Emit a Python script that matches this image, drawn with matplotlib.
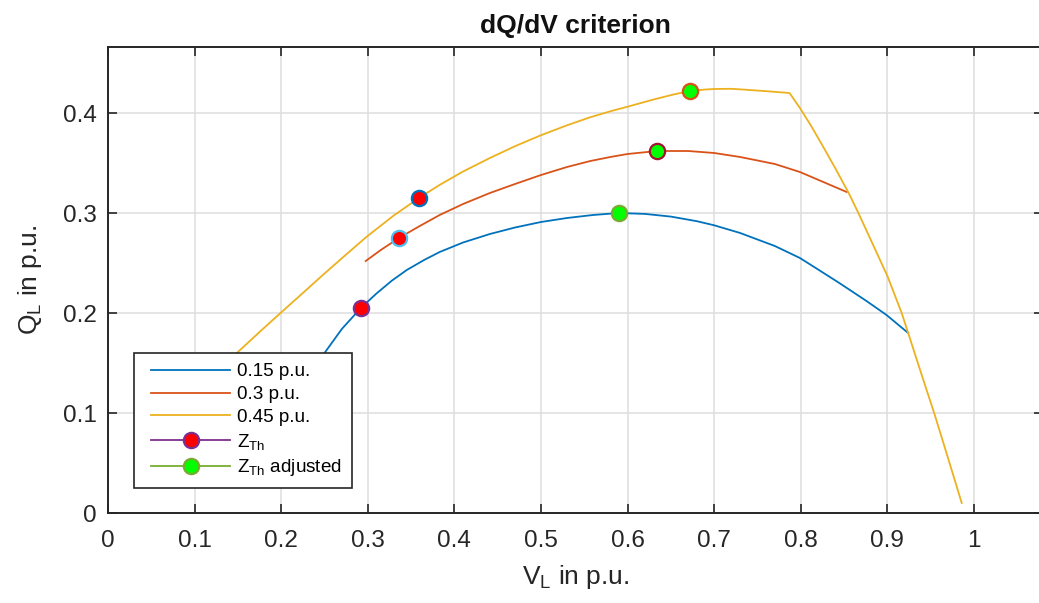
import matplotlib
matplotlib.use("Agg")
import matplotlib.pyplot as plt
from matplotlib.legend_handler import HandlerLine2D

plt.rcParams['font.family'] = ['Liberation Sans', 'DejaVu Sans']
plt.rcParams['mathtext.fontset'] = 'custom'
plt.rcParams['mathtext.rm'] = 'Liberation Sans'
plt.rcParams['mathtext.it'] = 'Liberation Sans'

# Q-V curves for three Thevenin impedances (p.u.)
v_015 = [0.220, 0.250, 0.270, 0.292, 0.310, 0.328, 0.345, 0.365, 0.383, 0.410,
         0.441, 0.470, 0.500, 0.530, 0.560, 0.590, 0.620, 0.650, 0.680, 0.700,
         0.730, 0.770, 0.799, 0.820, 0.845, 0.875, 0.899, 0.924]
q_015 = [0.120, 0.160, 0.184, 0.205, 0.2195, 0.2325, 0.2430, 0.2530, 0.2610, 0.2705,
         0.2790, 0.2855, 0.2910, 0.2950, 0.2980, 0.3000, 0.2991, 0.2964, 0.2918, 0.2877,
         0.2800, 0.2670, 0.2550, 0.2435, 0.2297, 0.2125, 0.1980, 0.1800]

v_030 = [0.2976, 0.315, 0.336, 0.360, 0.383, 0.410, 0.441, 0.470, 0.500, 0.530,
         0.557, 0.580, 0.600, 0.634, 0.670, 0.700, 0.730, 0.770, 0.799, 0.826,
         0.853]
q_030 = [0.252, 0.263, 0.275, 0.287, 0.298, 0.309, 0.320, 0.329, 0.338, 0.346,
         0.352, 0.356, 0.359, 0.362, 0.362, 0.360, 0.356, 0.349, 0.341, 0.331,
         0.321]

v_045 = [0.120, 0.150, 0.175, 0.2005, 0.225, 0.250, 0.275, 0.299, 0.330, 0.359,
         0.383, 0.410, 0.441, 0.470, 0.500, 0.530, 0.556, 0.580, 0.600, 0.630,
         0.653, 0.672, 0.690, 0.700, 0.720, 0.741, 0.765, 0.787, 0.799, 0.812,
         0.826, 0.840, 0.855, 0.8665, 0.883, 0.900, 0.9165, 0.924, 0.940, 0.954,
         0.970, 0.9858]
q_045 = [0.135, 0.161, 0.181, 0.201, 0.220, 0.2395, 0.2585, 0.2765, 0.2975, 0.315,
         0.3281, 0.3415, 0.3550, 0.3668, 0.3778, 0.3877, 0.3955, 0.4017, 0.4063, 0.4135,
         0.4185, 0.422, 0.4235, 0.424, 0.4242, 0.423, 0.4215, 0.420, 0.405, 0.387,
         0.366, 0.3445, 0.3205, 0.300, 0.269, 0.237, 0.200, 0.180, 0.137, 0.100,
         0.055, 0.010]

curve_labels = ['0.15 p.u.', '0.3 p.u.', '0.45 p.u.']
marker_labels = [r'Z$_\mathregular{Th}$', r'Z$_\mathregular{Th}$ adjusted']

# Critical points: plain Thevenin impedance and the adjusted one
zth_v = [0.292, 0.336, 0.359]
zth_q = [0.205, 0.275, 0.315]
adj_v = [0.590, 0.634, 0.672]
adj_q = [0.300, 0.362, 0.422]

x_ticks = [0, 0.1, 0.2, 0.3, 0.4, 0.5, 0.6, 0.7, 0.8, 0.9, 1.0]
x_tick_labels = ['0', '0.1', '0.2', '0.3', '0.4', '0.5', '0.6', '0.7', '0.8', '0.9', '1']
y_ticks = [0, 0.1, 0.2, 0.3, 0.4]
y_tick_labels = ['0', '0.1', '0.2', '0.3', '0.4']


class InsetLineHandler(HandlerLine2D):
    """Legend line sample that starts a little to the right of the handle box."""

    def __init__(self, inset, **kw):
        super().__init__(**kw)
        self.inset = inset

    def create_artists(self, legend, orig_handle, xdescent, ydescent,
                       width, height, fontsize, trans):
        return super().create_artists(legend, orig_handle,
                                      xdescent - self.inset, ydescent,
                                      width - self.inset, height, fontsize, trans)


W, H = 1039, 603
fig = plt.figure(figsize=(W / 100, H / 100), dpi=100)

x_max, y_max = 1.08, 0.466
px_per_x, px_per_y = 866.0, 1000.0
left_px, bottom_px = 108.0, 513.0
ax = fig.add_axes([left_px / W, (H - bottom_px) / H,
                   x_max * px_per_x / W, y_max * px_per_y / H])

line_colors = ['#0072BD', '#D95319', '#EDB120']
lw = 1.3
curve_handles = []
for (v, q), c, lab in zip([(v_015, q_015), (v_030, q_030), (v_045, q_045)],
                          line_colors, curve_labels):
    h, = ax.plot(v, q, color=c, lw=lw, label=lab, zorder=3,
                 solid_joinstyle='round')
    curve_handles.append(h)

# Marker pairs follow the default colour order for their edge/line colour
edge_cycle = ['#7E2F8E', '#77AC30', '#4DBEEE', '#A2142F', '#0072BD', '#D95319']
marker_handles = []
k = 0
for i in range(3):
    h1, = ax.plot([zth_v[i]], [zth_q[i]], 'o-', color=edge_cycle[k], lw=lw,
                  mfc='#FF0000', mec=edge_cycle[k], ms=11, mew=1.6, zorder=4)
    k += 1
    h2, = ax.plot([adj_v[i]], [adj_q[i]], 'o-', color=edge_cycle[k], lw=lw,
                  mfc='#00FF00', mec=edge_cycle[k], ms=11, mew=1.6, zorder=4)
    k += 1
    if i == 0:
        marker_handles = [h1, h2]

ax.set_xlim(0, x_max)
ax.set_ylim(0, y_max)
ax.set_xticks(x_ticks)
ax.set_xticklabels(x_tick_labels)
ax.set_yticks(y_ticks)
ax.set_yticklabels(y_tick_labels)

axis_color = '#262626'
ax.grid(True, color='#dedede', lw=1.1, zorder=0)
ax.set_axisbelow(True)
for s in ax.spines.values():
    s.set_color(axis_color)
    s.set_linewidth(1.4)
ax.tick_params(axis='both', direction='in', length=6.5, width=1.2,
               colors=axis_color, labelsize=17.5, top=True, right=True)
ax.tick_params(axis='x', pad=12.5)
ax.tick_params(axis='y', pad=8)

ax.set_xlabel(r'$\mathregular{V_L}$ in p.u.', fontsize=19, color=axis_color, labelpad=8)
ax.set_ylabel(r'$\mathregular{Q_L}$ in p.u.', fontsize=19, color=axis_color, labelpad=13.5)
ax.set_title('dQ/dV criterion', fontsize=19, fontweight='bold', color='#111111', pad=10)

all_handles = curve_handles + marker_handles
leg = ax.legend(all_handles, curve_labels + marker_labels,
                handler_map={h: InsetLineHandler(5.0) for h in all_handles},
                loc='upper left', bbox_to_anchor=(134 / W, 1 - 353 / H),
                bbox_transform=fig.transFigure, borderaxespad=0,
                fontsize=13.6, handlelength=4.56, handletextpad=0.37,
                borderpad=0.53, labelspacing=0.3, fancybox=False,
                framealpha=1, edgecolor=axis_color)
leg.get_frame().set_linewidth(1.2)
leg.set_zorder(10)

fig.savefig('out.png', dpi=100)
